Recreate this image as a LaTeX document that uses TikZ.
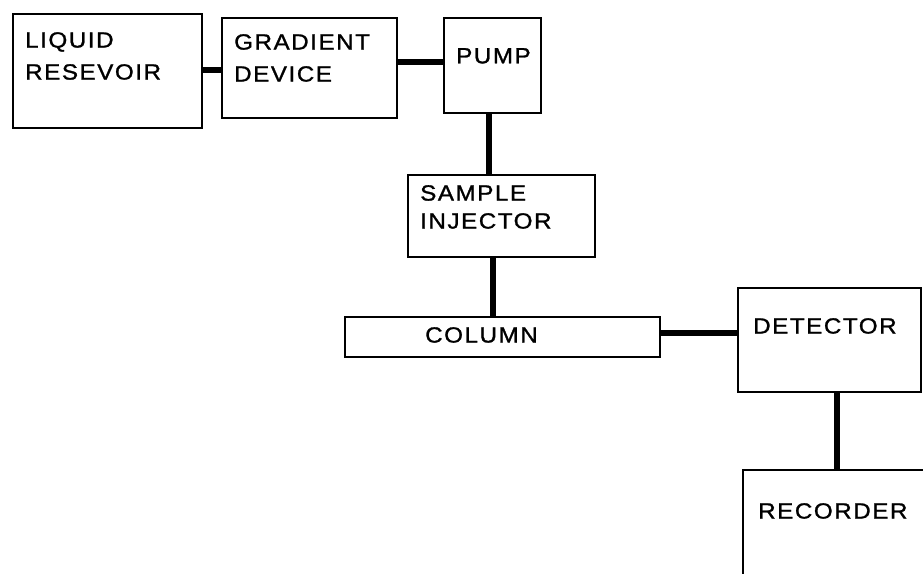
\documentclass[tikz,border=0pt]{standalone}
\usepackage{fontspec}
\setmainfont{Liberation Sans}[LetterSpace=7, FakeStretch=1.1, FakeBold=1.2]
\begin{document}
\begin{tikzpicture}[x=1pt,y=-1pt,
  box/.style={draw, line width=2pt, inner sep=0pt, outer sep=0pt},
  lbl/.style={anchor=north west, inner sep=0pt, align=left},
  pipe/.style={line width=6.5pt}]
\useasboundingbox (0,0) rectangle (923,573);
\fill[white] (0,0) rectangle (923,573);
\begin{scope}
\clip (0,0) rectangle (923,573);
% boxes
\node[box, minimum width=189pt, minimum height=114pt] (lr) at (107.5,71) {};
\node[box, minimum width=175pt, minimum height=100pt] (gd) at (309.5,68) {};
\node[box, minimum width=97pt, minimum height=95pt] (pump) at (492.5,65.5) {};
\node[box, minimum width=187pt, minimum height=82pt] (inj) at (501.5,216) {};
\node[box, minimum width=315pt, minimum height=40pt] (col) at (502.5,337) {};
\node[box, minimum width=183pt, minimum height=104pt] (det) at (829.5,340) {};
\node[inner sep=0pt, outer sep=0pt, minimum width=182pt, minimum height=110pt] (rec) at (834,525) {};
\draw[line width=2pt] (rec.south west) -- (rec.north west) -- ([xshift=10pt]rec.north east);
% labels
\node[lbl, font=\fontsize{22}{32}\selectfont] (tlr) at (25,32) {LIQUID\\RESEVOIR};
\node[lbl, font=\fontsize{22}{32}\selectfont] (tgd) at (234,34) {GRADIENT\\DEVICE};
\node[lbl, font=\fontsize{22}{32}\selectfont] (tpump) at (456,48) {PUMP};
\node[lbl, font=\fontsize{22}{28}\selectfont] (tinj) at (420,185) {SAMPLE\\INJECTOR};
\node[lbl, font=\fontsize{22}{32}\selectfont] (tcol) at (425,327) {COLUMN};
\node[lbl, font=\fontsize{22}{32}\selectfont] (tdet) at (753,318) {DETECTOR};
\node[lbl, font=\fontsize{22}{32}\selectfont] (trec) at (758,503) {RECORDER};
% connectors
\draw[pipe] (lr.east |- 0,70) -- (gd.west |- 0,70);
\draw[pipe] (gd.east |- 0,62) -- (pump.west |- 0,62);
\draw[pipe] (pump.south -| 489,0) -- (inj.north -| 489,0);
\draw[pipe] (inj.south -| 493,0) -- (col.north -| 493,0);
\draw[pipe] (col.east |- 0,333) -- (det.west |- 0,333);
\draw[pipe] (det.south -| 837,0) -- (rec.north -| 837,0);
\end{scope}
\end{tikzpicture}
\end{document}
